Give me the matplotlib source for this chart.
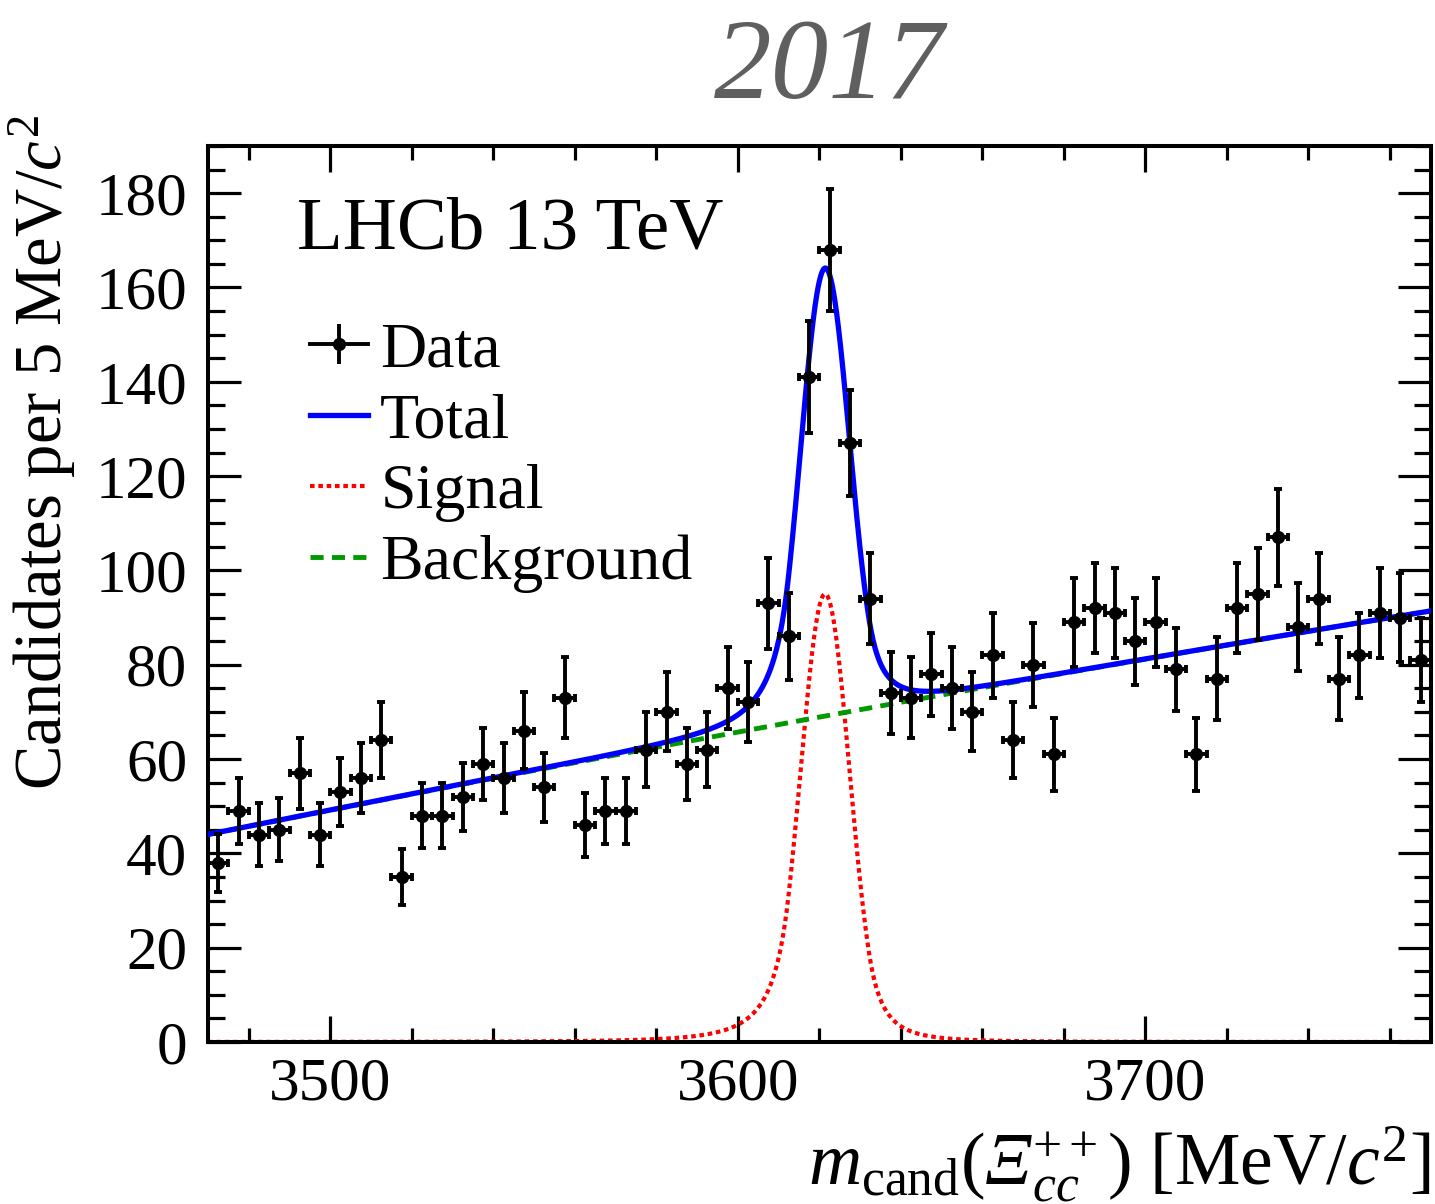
import numpy as np
import matplotlib
matplotlib.use("Agg")
import matplotlib.pyplot as plt
from matplotlib.lines import Line2D
from matplotlib.legend_handler import HandlerTuple
from matplotlib.ticker import MultipleLocator

plt.rcParams["font.family"] = ["Liberation Serif", "DejaVu Serif"]
# mathtext: rm is italic so that the capital Xi slants, sf gives upright text
plt.rcParams["mathtext.fontset"] = "custom"
plt.rcParams["mathtext.rm"] = "Liberation Serif:italic"
plt.rcParams["mathtext.it"] = "Liberation Serif:italic"
plt.rcParams["mathtext.sf"] = "Liberation Serif"
plt.rcParams["mathtext.bf"] = "Liberation Serif:bold"

# candidates per 5 MeV bin, 3470 -> 3770 MeV
bin_low = 3470.0
bin_width = 5.0
counts = [38, 49, 44, 45, 57, 44, 53, 56, 64, 35,
          48, 48, 52, 59, 56, 66, 54, 73, 46, 49,
          49, 62, 70, 59, 62, 75, 72, 93, 86, 141,
          168, 127, 94, 74, 73, 78, 75, 70, 82, 64,
          80, 61, 89, 92, 91, 85, 89, 79, 61, 77,
          92, 95, 107, 88, 94, 77, 82, 91, 90, 81]

# fit result: double-sided Crystal Ball signal + 2nd order polynomial background
sig_mean = 3621.4
sig_sigma = 6.0
sig_peak = 95.0
alpha_l, n_l = 1.5, 3.0
alpha_r, n_r = 1.8, 3.0
bkg_ref = 3620.0
bkg_coef = [68.9, 0.158, -5.3e-5]

counts = np.array(counts, dtype=float)
centers = bin_low + bin_width * (np.arange(len(counts)) + 0.5)
m = np.linspace(3470, 3770, 2001)


def dscb(x):
    t = (x - sig_mean) / sig_sigma
    y = np.exp(-0.5 * t ** 2)
    lo = t < -alpha_l
    a = (n_l / alpha_l) ** n_l * np.exp(-0.5 * alpha_l ** 2)
    b = n_l / alpha_l - alpha_l
    y[lo] = a * (b - t[lo]) ** (-n_l)
    hi = t > alpha_r
    a = (n_r / alpha_r) ** n_r * np.exp(-0.5 * alpha_r ** 2)
    b = n_r / alpha_r - alpha_r
    y[hi] = a * (b + t[hi]) ** (-n_r)
    return sig_peak * y


u = m - bkg_ref
bkg = bkg_coef[0] + bkg_coef[1] * u + bkg_coef[2] * u ** 2
sig = dscb(m)
total = bkg + sig

fig = plt.figure(figsize=(14.35, 12.04), dpi=100)
ax = fig.add_axes([0.14495, 0.13455, 0.8521, 0.7442])

red, green, blue = "#ff0000", "#009900", "#0000ff"
sig_style = dict(color=red, lw=3.0, dashes=(1.1, 0.9))
bkg_style = dict(color=green, lw=3.5, dashes=(2.7, 1.7))
tot_style = dict(color=blue, lw=3.8)

ax.plot(m, sig, zorder=2, **sig_style)
ax.plot(m, bkg, zorder=3, **bkg_style)
ax.plot(m, total, zorder=4, **tot_style)
ax.errorbar(centers, counts, yerr=np.sqrt(counts), xerr=bin_width / 2,
            fmt="o", color="k", ms=8.5, lw=2.8, capsize=3, capthick=2.8,
            zorder=5)

ax.set_xlim(3470, 3770)
ax.set_ylim(0, 190)
ax.xaxis.set_major_locator(MultipleLocator(100))
ax.xaxis.set_minor_locator(MultipleLocator(20))
ax.yaxis.set_major_locator(MultipleLocator(20))
ax.yaxis.set_minor_locator(MultipleLocator(5))
ax.tick_params(which="both", direction="in", top=True, right=True,
               width=2.3, labelsize=44)
ax.tick_params(axis="y", which="major", length=24, pad=15)
ax.tick_params(axis="y", which="minor", length=12)
ax.tick_params(axis="x", which="major", length=19, pad=11)
ax.tick_params(axis="x", which="minor", length=10)
for s in ax.spines.values():
    s.set_linewidth(2.9)

ax.set_ylabel(r"Candidates per 5 MeV/$c^{\mathsf{2}}$", fontsize=48, loc="top")
ax.yaxis.set_label_coords(-0.1063, 1.0346)
ax.set_xlabel(r"$m_{\mathsf{cand}}\mathsf{(}Ξ_{cc}^{\mathsf{++}}\mathsf{)}$"
              r" [MeV/$c^{\mathsf{2}}$]",
              fontsize=53, loc="right")
ax.xaxis.set_label_coords(1.0, -0.092)

ax.text(0.0728, 0.886, "LHCb 13 TeV", transform=ax.transAxes,
        fontsize=54, ha="left", va="baseline")

fig.text(0.578, 0.9186, "2017", ha="center", va="baseline", fontsize=83,
         style="italic", color="#5f5f5f")

h_data = (Line2D([], [], color="k", lw=2.8, marker="o", ms=8.5),
          Line2D([], [], color="k", marker="|", ms=29, mew=2.8, ls="none"))
h_tot = Line2D([], [], **tot_style)
h_sig = Line2D([], [], **sig_style)
h_bkg = Line2D([], [], **bkg_style)
ax.legend([h_data, h_tot, h_sig, h_bkg],
          ["Data", "Total", "Signal", "Background"],
          handler_map={tuple: HandlerTuple(ndivide=1)},
          loc="upper left", bbox_to_anchor=(0.0834, 0.8036),
          frameon=False, fontsize=46, borderpad=0, borderaxespad=0,
          handlelength=0.91, handletextpad=0.19, labelspacing=0.19)

fig.savefig("out.png", dpi=100)
